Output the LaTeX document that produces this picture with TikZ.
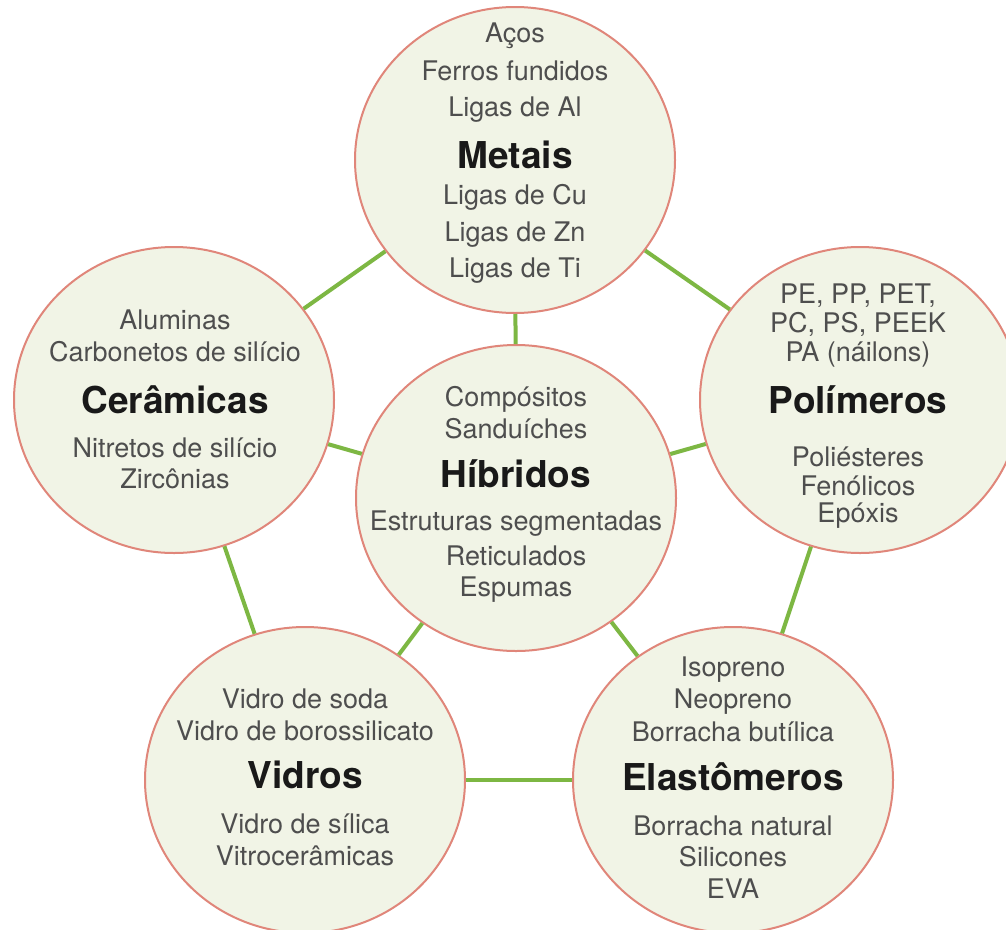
\documentclass[tikz,border=0pt]{standalone}
\usepackage{fontspec}
\setmainfont{TeX Gyre Heros}
\usetikzlibrary{shapes.geometric}
\definecolor{bubblefill}{HTML}{F1F4E6}
\definecolor{bubbleline}{HTML}{E0867A}
\definecolor{linkgreen}{HTML}{7DB743}
\definecolor{entrygray}{HTML}{4E4E4E}
\tikzset{
	bubble/.style={ellipse,draw=bubbleline,line width=2pt,fill=bubblefill,
		minimum width=320pt,minimum height=306pt,inner sep=0pt},
	entry/.style={anchor=base,inner sep=0pt,text=entrygray,
		font=\fontsize{27}{30}\selectfont},
	heading/.style={anchor=base,inner sep=0pt,text=black!90,
		font=\fontsize{37}{40}\selectfont\bfseries},
	link/.style={linkgreen,line width=4pt}
}
\begin{document}
\begin{tikzpicture}[x=1pt,y=-1pt]

	\fill[white] (0,0) rectangle (1006,929);
	\useasboundingbox (0,0) rectangle (1006,929);
	% the six families
	\node[bubble] (metais) at (515,160) {};
	\node[bubble] (ceramicas) at (174,400) {};
	\node[bubble] (polimeros) at (860,400) {};
	\node[bubble] (hibridos) at (516,498) {};
	\node[bubble] (vidros) at (305,780) {};
	\node[bubble] (elastomeros) at (733,780) {};
	% links
	\draw[link] (metais) -- (ceramicas);
	\draw[link] (metais) -- (polimeros);
	\draw[link] (metais) -- (hibridos);
	\draw[link] (ceramicas) -- (hibridos);
	\draw[link] (polimeros) -- (hibridos);
	\draw[link] (ceramicas) -- (vidros);
	\draw[link] (polimeros) -- (elastomeros);
	\draw[link] (vidros) -- (hibridos);
	\draw[link] (elastomeros) -- (hibridos);
	\draw[link] (vidros) -- (elastomeros);
	% Metais
	\node[entry] (met1) at (515,42) {Aços};
	\node[entry] (met2) at (515,80) {Ferros fundidos};
	\node[entry] (met3) at (515,116) {Ligas de Al};
	\node[heading] (metT) at (515,168) {Metais};
	\node[entry] (met4) at (515,204) {Ligas de Cu};
	\node[entry] (met5) at (515,241) {Ligas de Zn};
	\node[entry] (met6) at (515,277) {Ligas de Ti};
	% Ceramicas
	\node[entry] (cer1) at (175,329) {Aluminas};
	\node[entry] (cer2) at (175,361) {Carbonetos de silício};
	\node[heading] (cerT) at (175,413) {Cerâmicas};
	\node[entry] (cer3) at (175,457) {Nitretos de silício};
	\node[entry] (cer4) at (175,488) {Zircônias};
	% Polimeros
	\node[entry] (pol1) at (858,303) {PE, PP, PET,};
	\node[entry] (pol2) at (858,332) {PC, PS, PEEK};
	\node[entry] (pol3) at (858,361) {PA (náilons)};
	\node[heading] (polT) at (858,413) {Polímeros};
	\node[entry] (pol4) at (858,466) {Poliésteres};
	\node[entry] (pol5) at (858,495) {Fenólicos};
	\node[entry] (pol6) at (858,522) {Epóxis};
	% Hibridos
	\node[entry] (hib1) at (516,406) {Compósitos};
	\node[entry] (hib2) at (516,438) {Sanduíches};
	\node[heading] (hibT) at (516,487) {Híbridos};
	\node[entry] (hib3) at (516,530) {Estruturas segmentadas};
	\node[entry] (hib4) at (516,565) {Reticulados};
	\node[entry] (hib5) at (516,596) {Espumas};
	% Vidros
	\node[entry] (vid1) at (305,708) {Vidro de soda};
	\node[entry] (vid2) at (305,740) {Vidro de borossilicato};
	\node[heading] (vidT) at (305,788) {Vidros};
	\node[entry] (vid3) at (305,833) {Vidro de sílica};
	\node[entry] (vid4) at (305,865) {Vitrocerâmicas};
	% Elastomeros
	\node[entry] (ela1) at (733,676) {Isopreno};
	\node[entry] (ela2) at (733,708) {Neopreno};
	\node[entry] (ela3) at (733,741) {Borracha butílica};
	\node[heading] (elaT) at (733,790) {Elastômeros};
	\node[entry] (ela4) at (733,835) {Borracha natural};
	\node[entry] (ela5) at (733,866) {Silicones};
	\node[entry] (ela6) at (733,898) {EVA};

\end{tikzpicture}
\end{document}
